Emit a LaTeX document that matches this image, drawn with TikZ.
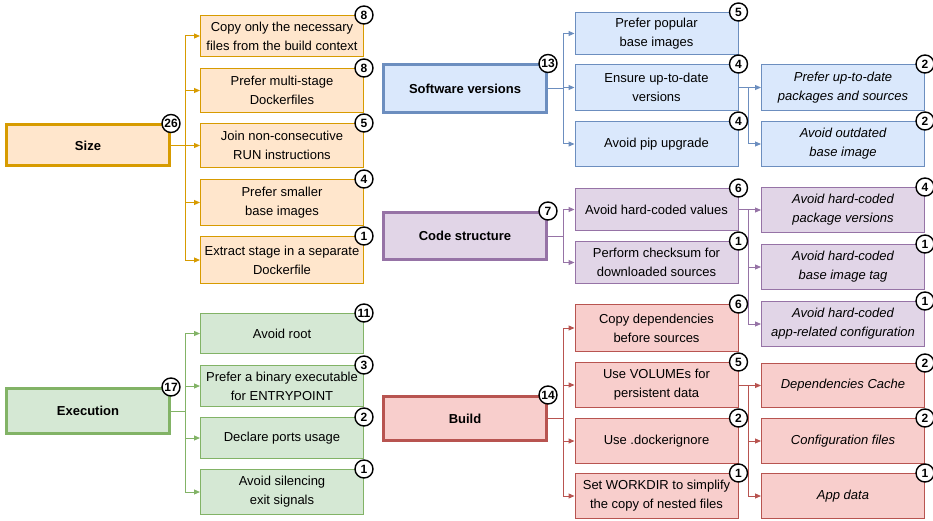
\documentclass[tikz,border=0pt]{standalone}
\usepackage{fontspec}
\setmainfont{Liberation Sans}
\usetikzlibrary{arrows.meta}

\definecolor{sizefill}{HTML}{FFE6CC}
\definecolor{sizeline}{HTML}{D79B00}
\definecolor{verfill}{HTML}{DAE8FC}
\definecolor{verline}{HTML}{6C8EBF}
\definecolor{codefill}{HTML}{E1D5E7}
\definecolor{codeline}{HTML}{9673A6}
\definecolor{execfill}{HTML}{D5E8D4}
\definecolor{execline}{HTML}{82B366}
\definecolor{buildfill}{HTML}{F8CECC}
\definecolor{buildline}{HTML}{B85450}

\begin{document}
\begin{tikzpicture}[x=1pt, y=-1pt]
    	\tikzstyle{mainbox} = 
    	[draw,
    	line width = 3pt,
    	minimum width = 163pt,
    	minimum height = 45pt,
    	inner sep = 2pt,
    	font = \fontsize{13}{19}\selectfont\bfseries
    	]
    	\tikzstyle{itembox} = 
    	[draw,
    	line width = 1pt,
    	minimum width = 163pt,
    	minimum height = 44pt,
    	inner sep = 2pt,
    	align = center,
    	font = \fontsize{13}{19}\selectfont
    	]
    	\tikzstyle{subbox} = 
    	[itembox,
    	font = \fontsize{13}{19}\selectfont\itshape
    	]
    	\tikzstyle{count} = 
    	[circle,
    	draw,
    	fill = white,
    	line width = 1.4pt,
    	inner sep = 0pt,
    	minimum size = 18pt,
    	font = \fontsize{12}{12}\selectfont\bfseries
    	]
    	\tikzstyle{branch} = 
    	[line width = 1pt,
    	-{Triangle[length=6pt, width=5pt]}
    	]

    	\useasboundingbox (0,0) rectangle (933,521);

    	% left column
    	\node[mainbox, minimum height=41pt, draw=sizeline, fill=sizefill] (size) at (88,145.5) {Size};
    	\node[mainbox, draw=execline, fill=execfill] (exec) at (88,411) {Execution};

    	\node[itembox, minimum height=41pt, draw=sizeline, fill=sizefill] (size-1) at (282,36)
    		{Copy only the necessary\\files from the build context};
    	\node[itembox, draw=sizeline, fill=sizefill] (size-2) at (282,90.5)
    		{Prefer multi-stage\\Dockerfiles};
    	\node[itembox, draw=sizeline, fill=sizefill] (size-3) at (282,145.5)
    		{Join non-consecutive\\RUN instructions};
    	\node[itembox, minimum height=46pt, draw=sizeline, fill=sizefill] (size-4) at (282,202.5)
    		{Prefer smaller\\base images};
    	\node[itembox, minimum height=47pt, draw=sizeline, fill=sizefill] (size-5) at (282,260)
    		{Extract stage in a separate\\Dockerfile};

    	\node[itembox, minimum height=40pt, draw=execline, fill=execfill] (exec-1) at (282,333.5)
    		{Avoid root};
    	\node[itembox, minimum height=41pt, draw=execline, fill=execfill] (exec-2) at (282,386)
    		{Prefer a binary executable\\for ENTRYPOINT};
    	\node[itembox, minimum height=41pt, draw=execline, fill=execfill] (exec-3) at (282,438)
    		{Declare ports usage};
    	\node[itembox, minimum height=45pt, draw=execline, fill=execfill] (exec-4) at (282,492)
    		{Avoid silencing\\exit signals};

    	% middle column
    	\node[mainbox, minimum height=48pt, draw=verline, fill=verfill] (ver) at (465,89) {Software versions};
    	\node[mainbox, minimum height=47pt, draw=codeline, fill=codefill] (code) at (465,236) {Code structure};
    	\node[mainbox, minimum height=44pt, draw=buildline, fill=buildfill] (build) at (465,418.5) {Build};

    	\node[itembox, minimum height=42pt, draw=verline, fill=verfill] (ver-1) at (656.5,33.5)
    		{Prefer popular\\base images};
    	\node[itembox, minimum height=46pt, draw=verline, fill=verfill] (ver-2) at (656.5,87.5)
    		{Ensure up-to-date\\versions};
    	\node[itembox, minimum height=45pt, draw=verline, fill=verfill] (ver-3) at (656.5,144)
    		{Avoid pip upgrade};

    	\node[itembox, minimum height=42pt, draw=codeline, fill=codefill] (code-1) at (656.5,209.5)
    		{Avoid hard-coded values};
    	\node[itembox, minimum height=42pt, draw=codeline, fill=codefill] (code-2) at (656.5,262.5)
    		{Perform checksum for\\downloaded sources};

    	\node[itembox, minimum height=47pt, draw=buildline, fill=buildfill] (build-1) at (656.5,328)
    		{Copy dependencies\\before sources};
    	\node[itembox, minimum height=45pt, draw=buildline, fill=buildfill] (build-2) at (656.5,385)
    		{Use VOLUMEs for\\persistent data};
    	\node[itembox, minimum height=45pt, draw=buildline, fill=buildfill] (build-3) at (656.5,441)
    		{Use .dockerignore};
    	\node[itembox, minimum height=45pt, draw=buildline, fill=buildfill] (build-4) at (656.5,496)
    		{Set WORKDIR to simplify\\the copy of nested files};

    	% right column
    	\node[subbox, minimum height=46pt, draw=verline, fill=verfill] (ver-2-1) at (843,87.5)
    		{Prefer up-to-date\\packages and sources};
    	\node[subbox, minimum height=45pt, draw=verline, fill=verfill] (ver-2-2) at (843,144)
    		{Avoid outdated\\base image};

    	\node[subbox, minimum height=45pt, draw=codeline, fill=codefill] (code-1-1) at (843,210)
    		{Avoid hard-coded\\package versions};
    	\node[subbox, minimum height=45pt, draw=codeline, fill=codefill] (code-1-2) at (843,267)
    		{Avoid hard-coded\\base image tag};
    	\node[subbox, minimum height=45pt, draw=codeline, fill=codefill] (code-1-3) at (843,324)
    		{Avoid hard-coded\\app-related configuration};

    	\node[subbox, minimum height=44pt, draw=buildline, fill=buildfill] (build-2-1) at (843,385.5)
    		{Dependencies Cache};
    	\node[subbox, minimum height=45pt, draw=buildline, fill=buildfill] (build-2-2) at (843,441)
    		{Configuration files};
    	\node[subbox, minimum height=45pt, draw=buildline, fill=buildfill] (build-2-3) at (843,496)
    		{App data};

    	% connectors
    	\foreach \c in {size-1,size-2,size-3,size-4,size-5}
    		\draw[branch, sizeline] (size.east) -- ++(14,0) |- (\c.west);
    	\foreach \c in {exec-1,exec-2,exec-3,exec-4}
    		\draw[branch, execline] (exec.east) -- ++(14,0) |- (\c.west);
    	\foreach \c in {ver-1,ver-2,ver-3}
    		\draw[branch, verline] (ver.east) -- ++(15,0) |- (\c.west);
    	\foreach \c in {ver-2-1,ver-2-2}
    		\draw[branch, verline] (ver-2.east) -- ++(10,0) |- (\c.west);
    	\foreach \c in {code-1,code-2}
    		\draw[branch, codeline] (code.east) -- ++(15,0) |- (\c.west);
    	\foreach \c in {code-1-1,code-1-2,code-1-3}
    		\draw[branch, codeline] (code-1.east) -- ++(10,0) |- (\c.west);
    	\foreach \c in {build-1,build-2,build-3,build-4}
    		\draw[branch, buildline] (build.east) -- ++(15,0) |- (\c.west);
    	\foreach \c in {build-2-1,build-2-2,build-2-3}
    		\draw[branch, buildline] (build-2.east) -- ++(10,0) |- (\c.west);

    	% counts
    	\foreach \c/\n in {size/26, exec/17, ver/13, code/7, build/14,
    		size-1/8, size-2/8, size-3/5, size-4/4, size-5/1,
    		exec-1/11, exec-2/3, exec-3/2, exec-4/1,
    		ver-1/5, ver-2/4, ver-3/4, ver-2-1/2, ver-2-2/2,
    		code-1/6, code-2/1, code-1-1/4, code-1-2/1, code-1-3/1,
    		build-1/6, build-2/5, build-3/2, build-4/1,
    		build-2-1/2, build-2-2/2, build-2-3/1}
    		\node[count] (\c-n) at (\c.north east) {\n};
\end{tikzpicture}
\end{document}
